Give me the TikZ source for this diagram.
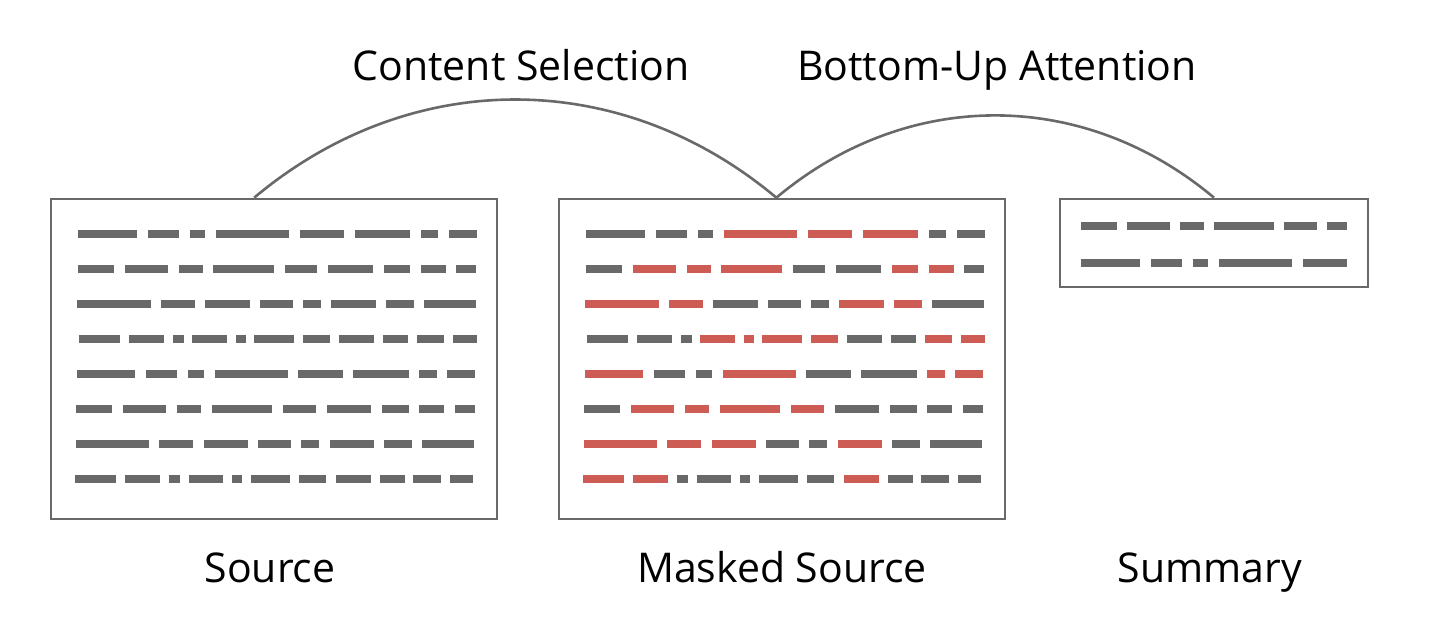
\documentclass[tikz,border=0pt]{standalone}
\usepackage{fontspec}
\setmainfont{Open Sans}
\usetikzlibrary{positioning}

\definecolor{linegray}{RGB}{105,105,105}
\definecolor{maskred}{RGB}{205,93,84}

\begin{document}
\begin{tikzpicture}[x=0.5pt, y=0.5pt,
	doc/.style={draw=linegray, line width=1.3pt, inner sep=0pt},
	word/.style={line width=4.2pt, draw=linegray},
	gw/.style={draw=linegray},
	rw/.style={draw=maskred},
	lbl/.style={font=\fontsize{20.5}{24}\selectfont, anchor=base, inner sep=0pt}]
	\useasboundingbox (0,0) rectangle (1432,640);

	\node[doc, minimum width=223pt, minimum height=160pt] (src) at (274,281) {};
	\node[doc, minimum width=223pt, minimum height=160pt] (msk) at (782,281) {};
	\node[doc, minimum width=154pt, minimum height=44pt] (sum) at (1214,397) {};

	% words of the source, and the same words with the mask
	\foreach \yy/\segs in {
		406/{78/137/gw,148/179/gw,190/205/gw,216/289/rw,300/344/rw,355/410/rw,421/438/gw,449/477/gw},
		371/{78/114/gw,125/168/rw,179/203/rw,213/274/rw,285/317/gw,328/373/gw,384/410/rw,421/446/rw,456/476/gw},
		336/{77/151/rw,161/195/rw,205/250/gw,260/293/gw,303/321/gw,331/376/rw,386/414/rw,424/476/gw},
		301/{79/120/gw,129/164/gw,173/184/gw,192/227/rw,236/246/rw,254/294/rw,303/330/rw,339/374/gw,383/408/gw,417/444/rw,453/477/rw},
		266/{77/135/rw,146/177/gw,188/204/gw,215/288/rw,298/343/gw,353/409/gw,419/437/rw,447/475/rw},
		231/{76/112/gw,123/166/rw,177/201/rw,212/272/rw,283/316/rw,327/371/gw,382/409/gw,419/444/gw,455/475/gw},
		196/{76/149/rw,159/193/rw,204/248/rw,258/291/gw,301/319/gw,330/374/rw,384/412/gw,422/474/gw},
		161/{75/116/rw,125/160/rw,169/180/gw,189/223/gw,232/242/gw,251/290/gw,299/326/gw,336/371/rw,380/405/gw,413/441/gw,450/473/gw}} {
		\foreach \a/\b/\c in \segs {
			\draw[word] (\a,\yy) -- (\b,\yy);
			\draw[word, \c] (\a+508,\yy) -- (\b+508,\yy);
		}
	}

	% words of the summary
	\foreach \yy/\segs in {
		414/{1081/1117,1127/1170,1180/1204,1214/1274,1284/1317,1327/1347},
		377/{1081/1140,1151/1182,1193/1208,1219/1292,1303/1347}} {
		\foreach \a/\b in \segs
			\draw[word] (\a,\yy) -- (\b,\yy);
	}

	\path[draw=linegray, line width=1.3pt]
	(src.97) edge[bend left=40] (msk.92)
	(msk.92) edge[bend left=40] (sum.north);

	\node[lbl] (sel) at (521,559) {Content Selection};
	\node[lbl] (att) at (997,559) {Bottom-Up Attention};
	\node[lbl] (srclbl) at (270,57) {Source};
	\node[lbl] (msklbl) at (782,57) {Masked Source};
	\node[lbl] (sumlbl) at (1210,57) {Summary};
\end{tikzpicture}
\end{document}
